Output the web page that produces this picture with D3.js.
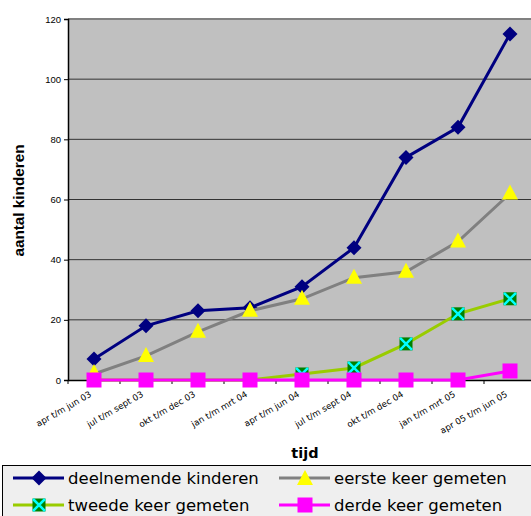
<!DOCTYPE html>
<html><head><meta charset="utf-8">
<script src="https://cdn.jsdelivr.net/npm/d3@7"></script>
<style>body{margin:0;background:#fff}svg{display:block}</style>
</head><body>
<script>
const categories = ["apr t/m jun 03","jul t/m sept 03","okt t/m dec 03","jan t/m mrt 04","apr t/m jun 04","jul t/m sept 04","okt t/m dec 04","jan t/m mrt 05","apr 05 t/m jun 05"];
const deelnemende = [7,18,23,24,31,44,74,84,115];
const eerste = [2,8,16,23,27,34,36,46,62];
const tweede = [0,0,0,0,2,4,12,22,27];
const derde = [0,0,0,0,0,0,0,0,3];
const yTicks = [0,20,40,60,80,100,120];
const seriesNames = ["deelnemende kinderen","eerste keer gemeten","tweede keer gemeten","derde keer gemeten"];

const W=531,H=516;
const svg=d3.select("body").append("svg").attr("width",W).attr("height",H);
const L=68,T=19,B=380,R=L+52*9;
const x=d3.scaleBand().domain(categories).range([L,R]);
const y=d3.scaleLinear().domain([0,120]).range([B,T]);

svg.append("rect").attr("x",L).attr("y",T).attr("width",R-L).attr("height",B-T).attr("fill","#c0c0c0");
svg.append("g").selectAll("line").data(yTicks.filter(d=>d>0&&d<120)).join("line")
 .attr("x1",L).attr("x2",R).attr("y1",d=>y(d)).attr("y2",d=>y(d)).attr("stroke","#333").attr("stroke-width",1);
svg.append("line").attr("x1",L).attr("x2",R).attr("y1",T).attr("y2",T).attr("stroke","#808080").attr("stroke-width",2);

const ya=svg.append("g").attr("transform",`translate(${L},0)`).call(d3.axisLeft(y).tickValues(yTicks).tickSize(4).tickPadding(3));
ya.select(".domain").attr("stroke","#000").attr("stroke-width",1.5);
ya.selectAll("text").attr("font-family","Liberation Sans, Arial, sans-serif").attr("font-size",9.5).attr("fill","#000");
const xa=svg.append("g").attr("transform",`translate(0,${B})`).call(d3.axisBottom(x).tickSize(0).tickFormat(""));
xa.select(".domain").attr("stroke","#000").attr("stroke-width",1.5);
svg.append("g").selectAll("line").data(categories).join("line")
 .attr("x1",d=>x(d)).attr("x2",d=>x(d)).attr("y1",B).attr("y2",B+4).attr("stroke","#000");
svg.append("g").selectAll("text").data(categories).join("text")
 .attr("transform",d=>`translate(${x(d)+x.bandwidth()/2-2},${B+16}) rotate(-30)`)
 .attr("text-anchor","end").attr("font-family","DejaVu Sans, Verdana, sans-serif").attr("font-size",8.7).text(d=>d);

svg.append("text").attr("transform",`translate(24,${(T+B)/2+1}) rotate(-90)`).attr("text-anchor","middle")
 .attr("font-family","Liberation Sans, Arial, sans-serif").attr("font-weight","bold").attr("font-size",15.3).text("aantal kinderen");
svg.append("text").attr("x",305).attr("y",458).attr("text-anchor","middle")
 .attr("font-family","DejaVu Sans, Verdana, sans-serif").attr("font-weight","bold").attr("font-size",14.5).text("tijd");

const cx=d=>x(d)+x.bandwidth()/2;
const series=[
 {name:seriesNames[0],data:deelnemende,color:"#000080",marker:"diamond"},
 {name:seriesNames[1],data:eerste,color:"#808080",marker:"triangle"},
 {name:seriesNames[2],data:tweede,color:"#99cc00",marker:"xsquare"},
 {name:seriesNames[3],data:derde,color:"#ff00ff",marker:"square"}
];
function drawMarker(g,type,px,py){
 if(type==="diamond"){
  g.append("path").attr("d",`M${px},${py-7.5}L${px+7.5},${py}L${px},${py+7.5}L${px-7.5},${py}Z`).attr("fill","#000080");
 } else if(type==="triangle"){
  g.append("path").attr("d",`M${px},${py-9}L${px+8},${py+6}L${px-8},${py+6}Z`).attr("fill","#ffff00");
 } else if(type==="square"){
  g.append("rect").attr("x",px-7.5).attr("y",py-7.5).attr("width",15).attr("height",15).attr("fill","#ff00ff");
 } else if(type==="xsquare"){
  g.append("rect").attr("x",px-6.5).attr("y",py-6.5).attr("width",13).attr("height",13).attr("fill","#008000");
  g.append("path").attr("d",`M${px-6},${py-6}L${px+6},${py+6}M${px+6},${py-6}L${px-6},${py+6}`).attr("stroke","#00ffff").attr("stroke-width",2.5);
 }
}
const line=d3.line().x((d,i)=>cx(categories[i])).y(d=>y(d));
series.forEach(s=>{
 const g=svg.append("g");
 g.append("path").attr("d",line(s.data)).attr("fill","none").attr("stroke",s.color).attr("stroke-width",3);
 s.data.forEach((v,i)=>{
  if(s.marker==="xsquare" && i<4) return;
  if(s.marker==="triangle" && i===0){ drawMarker(g,s.marker,cx(categories[i]),y(v)-1); return;}
  drawMarker(g,s.marker,cx(categories[i]),y(v));
 });
});

const lg=svg.append("g");
lg.append("rect").attr("x",2.5).attr("y",465.5).attr("width",540).attr("height",60).attr("fill","#efefef").attr("stroke","#000").attr("stroke-width",1);
const pos=[[13,478],[279,478],[13,505],[279,505]];
series.forEach((s,i)=>{
 const [lx,ly]=pos[i];
 lg.append("line").attr("x1",lx).attr("x2",lx+51).attr("y1",ly).attr("y2",ly).attr("stroke",s.color).attr("stroke-width",3);
 drawMarker(lg,s.marker,lx+26,ly+(s.marker==="triangle"?1:0));
 lg.append("text").attr("x",lx+55).attr("y",ly+6).attr("font-family","DejaVu Sans, Verdana, sans-serif").attr("font-size",16.5).text(s.name);
});
</script>
</body></html>
